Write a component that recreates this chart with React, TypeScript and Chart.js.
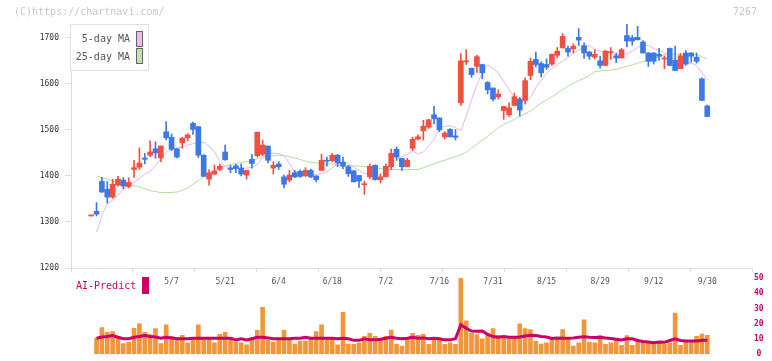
import React, { useEffect, useRef } from "react";
import { Chart, registerables } from "chart.js";

Chart.register(...registerables);

const FONT = "'DejaVu Sans Mono', 'Liberation Mono', monospace";

// x-axis date labels and the candle index they sit on
const tickLabels = ["5/7", "5/21", "6/4", "6/18", "7/2", "7/16", "7/31", "8/15", "8/29", "9/12", "9/30"];
const tickIndex = [15, 25, 35, 45, 55, 65, 75, 85, 95, 105, 115];
const priceTicks = [1200, 1300, 1400, 1500, 1600, 1700];
const volumeTicks = [0, 10, 20, 30, 40, 50];

const opens = [
  1313, 1323, 1388, 1371, 1354, 1380, 1391, 1377, 1414, 1419,
  1439, 1445, 1459, 1439, 1496, 1484, 1459, 1472, 1483, 1514,
  1507, 1445, 1393, 1404, 1414, 1452, 1417, 1422, 1417, 1402,
  1436, 1444, 1447, 1465, 1417, 1426, 1398, 1391, 1407, 1410,
  1400, 1412, 1400, 1412, 1434, 1433, 1445, 1430, 1420, 1411,
  1401, 1381, 1398, 1423, 1392, 1398, 1420, 1458, 1438, 1420,
  1460, 1480, 1498, 1506, 1533, 1526, 1485, 1501, 1487, 1559,
  1648, 1634, 1638, 1642, 1603, 1591, 1572, 1542, 1533, 1553,
  1567, 1564, 1618, 1653, 1644, 1642, 1643, 1662, 1678, 1677,
  1676, 1701, 1683, 1669, 1658, 1650, 1640, 1668, 1661, 1656,
  1705, 1700, 1701, 1691, 1667, 1667, 1664, 1654, 1677, 1651,
  1633, 1667, 1667, 1658, 1611, 1552,
];
const highs = [
  1315, 1342, 1397, 1388, 1393, 1399, 1396, 1396, 1434, 1461,
  1449, 1476, 1474, 1465, 1518, 1491, 1459, 1484, 1492, 1517,
  1508, 1446, 1414, 1424, 1426, 1467, 1423, 1425, 1426, 1412,
  1447, 1495, 1478, 1465, 1431, 1431, 1402, 1412, 1412, 1413,
  1418, 1415, 1400, 1447, 1441, 1449, 1447, 1441, 1423, 1412,
  1401, 1389, 1426, 1424, 1404, 1426, 1458, 1463, 1438, 1438,
  1484, 1489, 1521, 1523, 1551, 1526, 1496, 1503, 1501, 1666,
  1674, 1634, 1662, 1643, 1605, 1591, 1587, 1551, 1559, 1580,
  1571, 1613, 1656, 1669, 1648, 1654, 1665, 1679, 1709, 1682,
  1687, 1720, 1689, 1671, 1674, 1660, 1673, 1679, 1667, 1677,
  1731, 1705, 1725, 1694, 1668, 1668, 1677, 1661, 1678, 1682,
  1666, 1672, 1668, 1667, 1613, 1554,
];
const lows = [
  1313, 1313, 1364, 1341, 1351, 1378, 1372, 1374, 1397, 1414,
  1426, 1442, 1438, 1431, 1478, 1455, 1439, 1460, 1476, 1490,
  1440, 1399, 1380, 1403, 1411, 1434, 1407, 1407, 1400, 1393,
  1417, 1441, 1444, 1428, 1404, 1414, 1374, 1387, 1396, 1397,
  1399, 1396, 1387, 1411, 1421, 1431, 1420, 1416, 1399, 1387,
  1375, 1360, 1394, 1391, 1385, 1398, 1414, 1434, 1412, 1420,
  1455, 1478, 1478, 1503, 1513, 1496, 1480, 1484, 1478, 1553,
  1642, 1614, 1625, 1611, 1578, 1563, 1567, 1523, 1529, 1553,
  1530, 1556, 1609, 1637, 1615, 1631, 1640, 1656, 1678, 1660,
  1667, 1683, 1655, 1653, 1654, 1634, 1639, 1653, 1646, 1656,
  1680, 1684, 1695, 1667, 1638, 1643, 1651, 1633, 1639, 1629,
  1633, 1640, 1647, 1645, 1564, 1529,
];
const closes = [
  1315, 1317, 1365, 1354, 1382, 1393, 1378, 1386, 1418, 1428,
  1436, 1452, 1450, 1465, 1483, 1458, 1441, 1482, 1489, 1501,
  1445, 1399, 1407, 1411, 1421, 1435, 1414, 1416, 1404, 1412,
  1427, 1495, 1467, 1434, 1423, 1420, 1382, 1402, 1398, 1399,
  1412, 1398, 1392, 1434, 1432, 1445, 1428, 1421, 1405, 1387,
  1389, 1383, 1421, 1392, 1398, 1421, 1449, 1441, 1420, 1434,
  1480, 1485, 1508, 1522, 1524, 1500, 1493, 1485, 1484, 1650,
  1650, 1620, 1659, 1624, 1587, 1567, 1578, 1551, 1548, 1572,
  1543, 1607, 1649, 1642, 1624, 1636, 1664, 1671, 1703, 1669,
  1682, 1695, 1667, 1660, 1664, 1640, 1671, 1670, 1656, 1674,
  1693, 1693, 1696, 1667, 1649, 1649, 1660, 1656, 1640, 1629,
  1661, 1643, 1660, 1649, 1564, 1529,
];
const ma5 = [
  null, 1278, 1314, 1340, 1347, 1358, 1371, 1380, 1387, 1394,
  1404, 1410, 1422, 1438, 1451, 1458, 1461, 1462, 1467, 1470,
  1473, 1473, 1465, 1452, 1433, 1420, 1418, 1417, 1417, 1417,
  1419, 1425, 1440, 1449, 1449, 1449, 1444, 1427, 1408, 1400,
  1402, 1402, 1403, 1405, 1409, 1418, 1426, 1430, 1428, 1419,
  1412, 1406, 1401, 1400, 1403, 1413, 1425, 1435, 1442, 1447,
  1453, 1448, 1452, 1465, 1480, 1503, 1508, 1509, 1505, 1498,
  1530, 1565, 1598, 1624, 1641, 1634, 1624, 1605, 1588, 1570,
  1562, 1562, 1570, 1592, 1608, 1622, 1634, 1642, 1649, 1657,
  1666, 1673, 1679, 1683, 1675, 1671, 1669, 1666, 1664, 1664,
  1665, 1671, 1679, 1685, 1683, 1677, 1672, 1668, 1660, 1653,
  1648, 1646, 1645, 1640, 1624, 1609,
];
const ma25 = [
  null, 1400, 1396, 1393, 1389, 1387, 1384, 1382, 1379, 1376,
  1372, 1368, 1366, 1364, 1364, 1364, 1365, 1369, 1374, 1382,
  1390, 1398, 1405, 1411, 1418, 1422, 1425, 1427, 1429, 1431,
  1433, 1437, 1440, 1443, 1444, 1445, 1444, 1442, 1439, 1436,
  1432, 1429, 1428, 1427, 1426, 1426, 1424, 1423, 1422, 1422,
  1421, 1420, 1419, 1418, 1416, 1415, 1414, 1414, 1414, 1414,
  1414, 1414, 1418, 1422, 1426, 1431, 1434, 1438, 1442, 1446,
  1452, 1460, 1469, 1478, 1486, 1495, 1505, 1512, 1517, 1523,
  1529, 1535, 1541, 1550, 1558, 1565, 1572, 1580, 1587, 1595,
  1601, 1607, 1612, 1618, 1626, 1628, 1629, 1630, 1631, 1635,
  1638, 1641, 1645, 1648, 1651, 1654, 1659, 1664, 1664, 1664,
  1665, 1665, 1665, 1664, 1659, 1654,
];
const volume = [
  null, 10.5, 17.4, 14.3, 14.9, 10.5, 6.9, 8.0, 17.0, 20.0,
  14.3, 12.8, 16.8, 6.9, 19.3, 11.8, 10.5, 12.4, 7.4, 11.1,
  19.3, 10.5, 10.5, 7.4, 13.0, 14.3, 11.1, 8.0, 7.4, 6.1,
  11.1, 15.6, 30.7, 9.2, 8.0, 10.5, 15.6, 10.5, 6.7, 8.6,
  8.6, 10.5, 14.9, 19.3, 10.5, 10.5, 6.1, 27.5, 6.7, 6.7,
  7.4, 11.8, 13.7, 11.8, 10.3, 11.8, 15.8, 6.6, 5.3, 10.1,
  13.7, 12.4, 13.0, 6.5, 10.1, 10.1, 6.5, 7.4, 6.5, 50,
  21.9, 13.7, 12.8, 10.1, 13.7, 16.8, 12.2, 10.5, 10.5, 10.5,
  20.0, 16.8, 16.2, 8.6, 6.7, 7.4, 11.1, 11.1, 16.2, 11.1,
  5.3, 7.4, 22.5, 8.0, 7.4, 12.2, 6.5, 7.4, 10.1, 5.9,
  12.2, 5.9, 8.9, 8.4, 8.0, 8.0, 7.4, 6.5, 7.4, 26.9,
  5.9, 8.0, 8.0, 11.8, 13.2, 12.4,
];
const aiPredict = [
  null, 10.5, 11.3, 11.6, 12.2, 11.1, 10.1, 10.1, 11.1, 11.6,
  12.2, 11.6, 11.3, 10.5, 11.1, 10.7, 10.1, 10.1, 10.1, 10.5,
  10.5, 10.5, 10.5, 10.5, 10.5, 10.5, 10.5, 9.4, 10.1, 9.4,
  10.1, 11.1, 11.1, 10.7, 10.1, 10.1, 10.1, 10.1, 10.5, 10.5,
  11.1, 10.5, 10.5, 10.5, 10.5, 10.5, 10.1, 10.5, 10.1, 9.1,
  9.1, 10.1, 9.4, 9.4, 9.8, 10.5, 11.1, 10.5, 10.1, 10.5,
  11.1, 10.5, 10.7, 10.1, 10.5, 10.1, 9.4, 9.4, 10.1, 19.3,
  17.0, 15.2, 15.0, 15.2, 13.0, 11.6, 11.1, 11.6, 11.1, 11.1,
  11.3, 12.0, 12.4, 12.2, 11.6, 11.3, 10.3, 10.7, 10.5, 10.5,
  10.7, 11.1, 11.5, 11.1, 10.9, 11.1, 10.7, 10.3, 9.8, 9.3,
  10.1, 10.1, 9.0, 8.4, 8.0, 7.6, 8.0, 7.8, 9.0, 10.1,
  9.0, 8.6, 8.6, 8.6, 9.1, 9.1,
];

const X_MIN = -3.77;
const X_MAX = 123.35;
const RED = "#f05040";
const BLUE = "#3c78e6";
const PINK = "#e8b4ec";
const GREEN = "#b4dca0";
const MAGENTA = "#cc0066";
const ORANGE = "#f0963c";
const AXIS = "#dddddd";

export default function App() {
  const mainRef = useRef<HTMLCanvasElement>(null);
  const volRef = useRef<HTMLCanvasElement>(null);

  useEffect(() => {
    Chart.defaults.font.family = FONT;
    const colors = closes.map((c, i) => (c >= opens[i] ? RED : BLUE));

    const main = new Chart(mainRef.current as HTMLCanvasElement, {
      type: "bar",
      data: {
        datasets: [
          {
            type: "bar",
            label: "body",
            data: opens.map((o, i) => ({ x: i, y: [o, closes[i]] })) as any,
            backgroundColor: colors,
            barThickness: 5,
            minBarLength: 1,
            grouped: false,
            order: 0,
          } as any,
          {
            type: "bar",
            label: "wick",
            data: lows.map((l, i) => ({ x: i, y: [l, highs[i]] })) as any,
            backgroundColor: colors,
            barThickness: 1,
            grouped: false,
            order: 1,
          } as any,
          {
            type: "line",
            label: "5-day MA",
            data: ma5.map((v, i) => ({ x: i, y: v })) as any,
            borderColor: PINK,
            borderWidth: 1,
            pointRadius: 0,
            tension: 0,
            order: 2,
          } as any,
          {
            type: "line",
            label: "25-day MA",
            data: ma25.map((v, i) => ({ x: i, y: v })) as any,
            borderColor: GREEN,
            borderWidth: 1,
            pointRadius: 0,
            tension: 0,
            order: 3,
          } as any,
        ],
      },
      options: {
        animation: false,
        responsive: false,
        maintainAspectRatio: false,
        layout: { padding: { left: 0, right: 20, top: 24, bottom: 0 } },
        plugins: { legend: { display: false }, tooltip: { enabled: false } },
        scales: {
          x: {
            type: "linear",
            position: "bottom",
            weight: 0,
            min: X_MIN,
            max: X_MAX,
            offset: false,
            afterBuildTicks: (s: any) => {
              s.ticks = Array.from({ length: 12 }, (_, k) => ({ value: X_MIN + (k * (X_MAX - X_MIN)) / 11 }));
            },
            afterFit: (s: any) => {
              s.height = 4;
            },
            border: { color: AXIS, width: 1 },
            grid: { drawOnChartArea: false, offset: false, color: AXIS, tickLength: 4 },
            ticks: { display: false },
          },
          xl: {
            type: "linear",
            position: "bottom",
            axis: "x",
            weight: 1,
            min: X_MIN,
            max: X_MAX,
            offset: false,
            afterBuildTicks: (s: any) => {
              s.ticks = tickIndex.map((v) => ({ value: v }));
            },
            afterFit: (s: any) => {
              s.height = 28;
            },
            border: { display: false },
            grid: { display: false, drawTicks: false, offset: false },
            ticks: {
              autoSkip: false,
              maxRotation: 0,
              padding: 5,
              color: "#555555",
              font: { family: FONT, size: 8 },
              callback: (_v: any, idx: number) => tickLabels[idx],
            },
          } as any,
          y: {
            type: "linear",
            position: "left",
            min: 1200,
            max: 1730,
            afterBuildTicks: (s: any) => {
              s.ticks = priceTicks.map((v) => ({ value: v }));
            },
            afterFit: (s: any) => {
              s.width = 71;
            },
            border: { color: AXIS, width: 1 },
            grid: { drawOnChartArea: false, color: AXIS, tickLength: 6 },
            ticks: {
              padding: 6,
              color: "#333333",
              font: { family: FONT, size: 8 },
              callback: (v: any) => String(v),
            },
          },
        },
      } as any,
    });

    const vol = new Chart(volRef.current as HTMLCanvasElement, {
      type: "bar",
      data: {
        datasets: [
          {
            type: "line",
            label: "AI-Predict",
            data: aiPredict.map((v, i) => ({ x: i, y: v })) as any,
            borderColor: MAGENTA,
            borderWidth: 3,
            pointRadius: 0,
            tension: 0,
            order: 0,
          } as any,
          {
            type: "bar",
            label: "volume",
            data: volume.map((v, i) => ({ x: i, y: v })) as any,
            backgroundColor: ORANGE,
            barThickness: 4,
            order: 1,
          } as any,
        ],
      },
      options: {
        animation: false,
        responsive: false,
        maintainAspectRatio: false,
        layout: { padding: { left: 71, right: 0, top: 8, bottom: 3 } },
        plugins: { legend: { display: false }, tooltip: { enabled: false } },
        scales: {
          x: {
            type: "linear",
            display: false,
            min: X_MIN,
            max: X_MAX,
            offset: false,
            grid: { offset: false },
          },
          y: {
            type: "linear",
            position: "right",
            min: 0,
            max: 50,
            afterBuildTicks: (s: any) => {
              s.ticks = volumeTicks.map((v) => ({ value: v }));
            },
            afterFit: (s: any) => {
              s.width = 20;
            },
            border: { display: false },
            grid: { display: false, drawTicks: false },
            ticks: {
              padding: 2,
              crossAlign: "center",
              color: MAGENTA,
              font: { family: FONT, size: 8, weight: "bold" },
              callback: (v: any) => String(v),
            },
          },
        },
      } as any,
    });

    return () => {
      main.destroy();
      vol.destroy();
    };
  }, []);

  const txt: React.CSSProperties = {
    position: "absolute",
    fontFamily: FONT,
    fontSize: 10,
    lineHeight: "12px",
    whiteSpace: "nowrap",
  };

  return (
    <div style={{ position: "fixed", left: 0, top: 0, width: 772, height: 361, background: "#ffffff", overflow: "hidden" }}>
      <canvas ref={mainRef} width={772} height={300} style={{ position: "absolute", left: 0, top: 0, width: 772, height: 300 }} />
      <canvas ref={volRef} width={772} height={91} style={{ position: "absolute", left: 0, top: 270, width: 772, height: 91 }} />
      <div style={{ ...txt, left: 14, top: 6, color: "#c8c8c8" }}>(C)https://chartnavi.com/</div>
      <div style={{ ...txt, right: 15, top: 6, color: "#c8c8c8" }}>7267</div>
      <div style={{ position: "absolute", left: 70, top: 24, width: 77, height: 45, border: "1px solid #e0e0e0", background: "#ffffff" }} />
      <div style={{ ...txt, left: 60, width: 70, textAlign: "right", top: 33, color: "#555555" }}>5-day MA</div>
      <div style={{ ...txt, left: 60, width: 70, textAlign: "right", top: 51, color: "#555555" }}>25-day MA</div>
      <div style={{ position: "absolute", left: 136, top: 31, width: 5, height: 14, border: "1px solid #666666", background: "#ecbcec" }} />
      <div style={{ position: "absolute", left: 136, top: 48, width: 5, height: 14, border: "1px solid #666666", background: "#bfe0b0" }} />
      <div style={{ ...txt, left: 76, top: 280, color: MAGENTA }}>AI-Predict</div>
      <div style={{ position: "absolute", left: 142, top: 277, width: 7, height: 17, background: MAGENTA }} />
    </div>
  );
}
